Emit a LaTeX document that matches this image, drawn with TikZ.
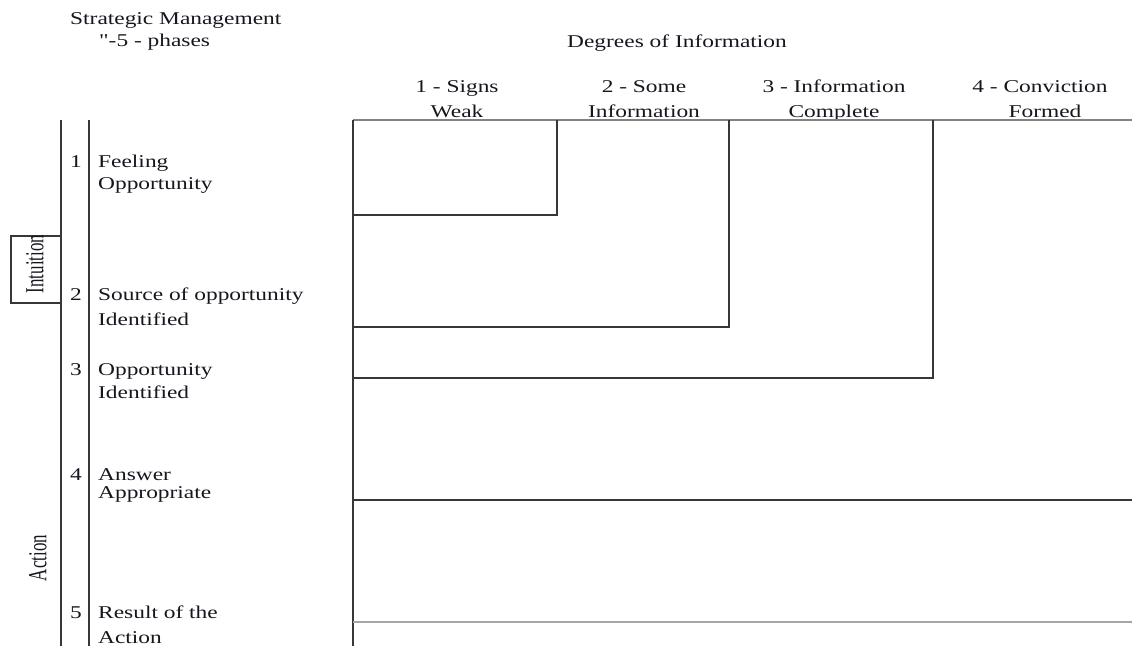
\documentclass[tikz,border=0pt]{standalone}
\usepackage{fontspec}
\setmainfont[FakeStretch=1.3]{Liberation Serif}
\newfontfamily\qfont[FakeStretch=1.3,Ligatures=TeXOff]{Liberation Serif}
\newfontfamily\rotfont{Liberation Serif}
\definecolor{ink}{RGB}{22,22,30}
\definecolor{linec}{RGB}{55,55,55}
\definecolor{topc}{RGB}{130,130,130}
\definecolor{lowc}{RGB}{165,165,165}
\begin{document}
\begin{tikzpicture}[x=1pt,y=-1pt,
  txt/.style={inner sep=0pt, font=\fontsize{18}{20}\selectfont, text=ink},
  lbl/.style={txt, anchor=base west},
  hdr/.style={txt, anchor=base},
  rot/.style={inner sep=0pt, rotate=90, text=ink, font=\rotfont\fontsize{26}{26}\selectfont},
  ln/.style={draw=linec, line width=1.2pt},
  lnlight/.style={draw=topc, line width=1.2pt},
  lnlow/.style={draw=lowc, line width=1.2pt}]
\useasboundingbox (0,0) rectangle (1132,646);
% titles
\node[lbl] (sm) at (70,24) {Strategic Management};
\node[lbl] (ph) at (99,46) {{\qfont\fontsize{18}{20}\selectfont "}-5 - phases};
\node[hdr] (dg) at (677,47) {Degrees of Information};
% column headers
\node[hdr] (h1a) at (457,92) {1 - Signs};
\node[hdr] (h1b) at (457,117) {Weak};
\node[hdr] (h2a) at (644,92) {2 - Some};
\node[hdr] (h2b) at (644,117) {Information};
\node[hdr] (h3a) at (834,92) {3 - Information};
\node[hdr] (h3b) at (834,117) {Complete};
\node[hdr] (h4a) at (1040,92) {4 - Conviction};
\node[hdr] (h4b) at (1045,117) {Formed};
% phase numbers
\node[hdr] (n1) at (76,167) {1};
\node[hdr] (n2) at (76,300) {2};
\node[hdr] (n3) at (76,375) {3};
\node[hdr] (n4) at (76,480) {4};
\node[hdr] (n5) at (76,618) {5};
% phase labels
\node[lbl] (p1a) at (98,167) {Feeling};
\node[lbl] (p1b) at (98,189) {Opportunity};
\node[lbl] (p2a) at (98,300) {Source of opportunity};
\node[lbl] (p2b) at (98,325) {Identified};
\node[lbl] (p3a) at (98,375) {Opportunity};
\node[lbl] (p3b) at (98,398) {Identified};
\node[lbl] (p4a) at (98,480) {Answer};
\node[lbl] (p4b) at (98,498) {Appropriate};
\node[lbl] (p5a) at (98,618) {Result of the};
\node[lbl] (p5b) at (98,643) {Action};
% left structure
\draw[ln] (61,120) -- (61,646);
\draw[ln] (89,120) -- (89,646);
\draw[ln] (11,236) rectangle (61,303);
\node[rot] (intu) at (35,264) {\scalebox{0.65}[1]{Intuition}};
\node[rot] (act) at (38,558) {\scalebox{0.65}[1]{Action}};
% grid
\draw[lnlight] (353,120) -- (1132,120);
\draw[ln] (353,120) -- (353,646);
\draw[ln] (557,120) -- (557,215) -- (353,215);
\draw[ln] (729,120) -- (729,327) -- (353,327);
\draw[ln] (933,120) -- (933,378) -- (353,378);
\draw[ln] (353,500) -- (1132,500);
\draw[lnlow] (353,622) -- (1132,622);
\end{tikzpicture}
\end{document}
